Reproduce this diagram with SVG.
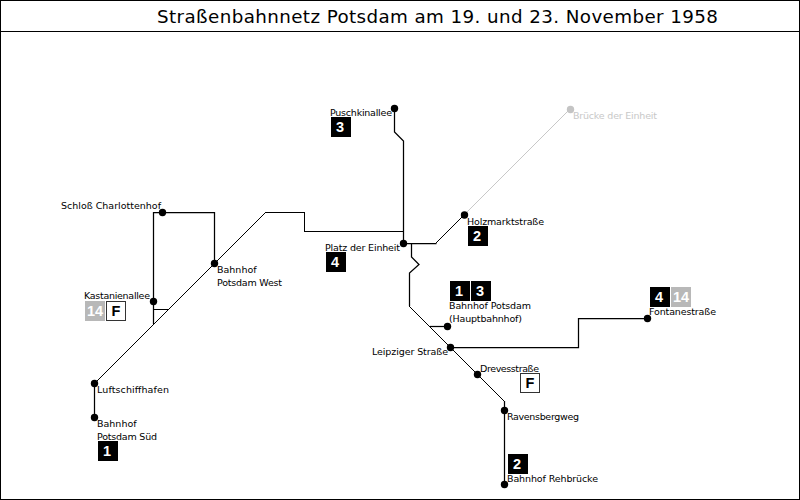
<svg xmlns="http://www.w3.org/2000/svg" width="800" height="500" viewBox="0 0 800 500">
<style>
text{font-family:"DejaVu Sans",Verdana,sans-serif}
.l{font-size:9.5px;fill:#000}
.g{font-size:9.5px;fill:#c8c8c8}
.t{font-size:18.3px;fill:#000}
.w{fill:none;stroke:#000;stroke-width:1.25}
.n{fill:none;stroke:#000;stroke-width:1;shape-rendering:crispEdges}
.b{fill:#000}
.y{fill:#b8b8b8}
.f{fill:#fff;stroke:#333;stroke-width:1}
.d{font-family:"Liberation Sans",Arial,sans-serif;font-size:14.5px;font-weight:bold;fill:#fff;text-anchor:middle}
.k{font-family:"Liberation Sans",Arial,sans-serif;font-size:14.5px;font-weight:bold;fill:#000;text-anchor:middle}
.s{fill:#000}
</style>
<rect x="0" y="0" width="800" height="500" fill="#fff"/>
<rect x="0.5" y="0.5" width="799" height="499" fill="none" stroke="#000"/>
<line x1="0" y1="31.5" x2="800" y2="31.5" stroke="#000"/>
<text class="t" x="157" y="23" textLength="561" lengthAdjust="spacing">Straßenbahnnetz Potsdam am 19. und 23. November 1958</text>
<g id="connectors">
<path d="M464 215L570 109" fill="none" stroke="#c8c8c8" shape-rendering="crispEdges"/>
<path class="n" d="M94 384L266 212H304V231H403"/>
<path class="w" d="M94.500 383V417"/>
<path class="w" d="M153.500 324V212.500H214.500V263"/>
<path class="n" d="M153 309H169"/>
<path class="w" d="M394.500 108V132L403.500 141V243"/>
<path class="w" d="M403 243.500H436.500"/>
<path class="n" d="M436 243L464 215"/>
<path class="w" d="M411.500 243V257L419 264.500L409.500 273V306"/>
<path class="n" d="M409 306L504 401"/>
<path class="w" d="M504.500 401V484"/>
<path class="w" d="M430 326.500H447"/>
<path class="w" d="M450 347.500H578.500V318.500H647"/>
</g>
<g id="puschkinallee"><circle class="s" cx="394.500" cy="108.500" r="3.700"/><text class="l" x="330" y="116" textLength="62">Puschkinallee</text><rect class="b" x="331" y="117" width="20" height="20"/><text class="d" x="340" y="132">3</text></g>
<g id="bruecke"><circle cx="570.500" cy="109.500" r="3.700" fill="#c4c4c4"/><text class="g" x="573" y="119" textLength="84">Brücke der Einheit</text></g>
<g id="holzmarkt"><circle class="s" cx="464.500" cy="215" r="3.700"/><text class="l" x="467" y="225" textLength="77">Holzmarktstraße</text><rect class="b" x="468" y="226" width="20" height="20"/><text class="d" x="477" y="241">2</text></g>
<g id="platz"><circle class="s" cx="403.500" cy="243.500" r="3.700"/><text class="l" x="325" y="251" textLength="75">Platz der Einheit</text><rect class="b" x="326" y="252" width="20" height="20"/><text class="d" x="335" y="267">4</text></g>
<g id="charlottenhof"><circle class="s" cx="162.500" cy="212.500" r="3.700"/><text class="l" x="61" y="209" textLength="100">Schloß Charlottenhof</text></g>
<g id="potsdam-west"><circle class="s" cx="214.500" cy="263.500" r="3.700"/><text class="l" x="217" y="273">Bahnhof</text><text class="l" x="217" y="286" textLength="65">Potsdam West</text></g>
<g id="kastanienallee"><circle class="s" cx="153.500" cy="301.500" r="3.700"/><text class="l" x="84" y="299" textLength="66">Kastanienallee</text><rect class="y" x="85" y="301" width="20" height="20"/><text class="d" x="95" y="316">14</text><rect class="f" x="106.500" y="301.500" width="19" height="19"/><text class="k" x="116" y="316">F</text></g>
<g id="luftschiffhafen"><circle class="s" cx="94.500" cy="383.500" r="3.700"/><text class="l" x="97" y="393" textLength="72">Luftschiffhafen</text></g>
<g id="potsdam-sued"><circle class="s" cx="94.500" cy="417.500" r="3.700"/><text class="l" x="97" y="427">Bahnhof</text><text class="l" x="97" y="440" textLength="60">Potsdam Süd</text><rect class="b" x="98" y="441" width="20" height="20"/><text class="d" x="107" y="456">1</text></g>
<g id="hauptbahnhof"><circle class="s" cx="447.500" cy="326.500" r="3.700"/><rect class="b" x="450" y="281" width="20" height="20"/><text class="d" x="459" y="296">1</text><rect class="b" x="471" y="281" width="20" height="20"/><text class="d" x="480" y="296">3</text><text class="l" x="449" y="309" textLength="82">Bahnhof Potsdam</text><text class="l" x="449" y="322" textLength="73">(Hauptbahnhof)</text></g>
<g id="leipziger"><circle class="s" cx="450.500" cy="347.500" r="3.700"/><text class="l" x="372" y="355" textLength="76">Leipziger Straße</text></g>
<g id="drevesstrasse"><circle class="s" cx="477.500" cy="374.500" r="3.700"/><text class="l" x="480" y="372" textLength="59">Drevesstraße</text><rect class="f" x="520.500" y="373.500" width="19" height="19"/><text class="k" x="530" y="388">F</text></g>
<g id="ravensbergweg"><circle class="s" cx="504.500" cy="410.500" r="3.700"/><text class="l" x="507" y="420" textLength="72">Ravensbergweg</text></g>
<g id="rehbruecke"><circle class="s" cx="504.500" cy="484.500" r="3.700"/><rect class="b" x="508" y="454" width="20" height="20"/><text class="d" x="517" y="469">2</text><text class="l" x="507" y="482" textLength="91">Bahnhof Rehbrücke</text></g>
<g id="fontanestrasse"><circle class="s" cx="647.500" cy="318.500" r="3.700"/><rect class="b" x="650" y="287" width="20" height="20"/><text class="d" x="659" y="302">4</text><rect class="y" x="671" y="287" width="20" height="20"/><text class="d" x="681" y="302">14</text><text class="l" x="649" y="315" textLength="67">Fontanestraße</text></g>
</svg>
